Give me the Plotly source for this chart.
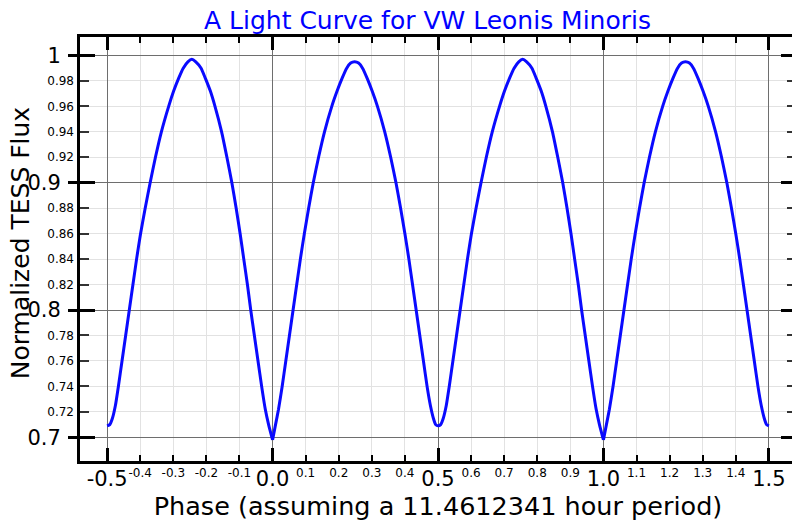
import plotly.graph_objects as go

# One cycle of the phased light curve (phase 0..1)
phase = [0.000, 0.009, 0.018, 0.029, 0.040, 0.051, 0.062, 0.073, 0.084, 0.096,
         0.109, 0.123, 0.139, 0.157, 0.179, 0.195, 0.210, 0.224, 0.236, 0.248,
         0.260, 0.272, 0.286, 0.301, 0.317, 0.339, 0.357, 0.373, 0.387, 0.400,
         0.412, 0.423, 0.434, 0.445, 0.456, 0.467, 0.477, 0.486, 0.493, 0.500,
         0.508, 0.516, 0.525, 0.534, 0.545, 0.556, 0.567, 0.578, 0.589, 0.601,
         0.615, 0.630, 0.646, 0.664, 0.686, 0.701, 0.716, 0.730, 0.744, 0.756,
         0.768, 0.784, 0.797, 0.812, 0.826, 0.846, 0.862, 0.877, 0.890, 0.902,
         0.913, 0.924, 0.934, 0.945, 0.956, 0.967, 0.978, 0.988, 1.000]
flux = [0.698, 0.710, 0.722, 0.740, 0.760, 0.780, 0.800, 0.820, 0.840, 0.860,
        0.880, 0.900, 0.920, 0.940, 0.960, 0.972, 0.982, 0.990, 0.994, 0.995,
        0.994, 0.990, 0.982, 0.972, 0.960, 0.940, 0.920, 0.900, 0.880, 0.860,
        0.840, 0.820, 0.800, 0.780, 0.760, 0.740, 0.725, 0.715, 0.710, 0.709,
        0.710, 0.715, 0.725, 0.740, 0.760, 0.780, 0.800, 0.820, 0.840, 0.860,
        0.880, 0.900, 0.920, 0.940, 0.960, 0.972, 0.982, 0.990, 0.995, 0.997,
        0.995, 0.990, 0.982, 0.972, 0.960, 0.940, 0.920, 0.900, 0.880, 0.860,
        0.840, 0.820, 0.800, 0.780, 0.760, 0.740, 0.722, 0.710, 0.698]

x_major_ticks = [-0.5, 0.0, 0.5, 1.0, 1.5]
x_major_text = ["-0.5", "0.0", "0.5", "1.0", "1.5"]
x_minor_ticks = [-0.4, -0.3, -0.2, -0.1, 0.1, 0.2, 0.3, 0.4, 0.6, 0.7, 0.8, 0.9,
                 1.1, 1.2, 1.3, 1.4]
y_major_ticks = [0.7, 0.8, 0.9, 1.0]
y_major_text = ["0.7", "0.8", "0.9", "1"]
y_minor_ticks = [0.72, 0.74, 0.76, 0.78, 0.82, 0.84, 0.86, 0.88, 0.92, 0.94, 0.96, 0.98]

TITLE = "A Light Curve for VW Leonis Minoris"
X_TITLE = "Phase (assuming a 11.4612341 hour period)"
Y_TITLE = "Normalized TESS Flux"

XR = [-0.582, 1.582]
YR = [0.6814, 1.0145]

# Repeat the phased cycle over the plotted phase window
xs, ys = [], []
for shift in (-1, 0, 1):
    for p, f in zip(phase, flux):
        q = p + shift
        if -0.5 - 1e-9 <= q <= 1.5 + 1e-9:
            xs.append(q)
            ys.append(f)
    xs.append(None)
    ys.append(None)

FONT = "DejaVu Sans"
MAJOR_GRID = "#6e6e6e"
MINOR_GRID = "#e2e2e2"

fig = go.Figure()
fig.add_trace(go.Scatter(x=xs, y=ys, mode="lines",
                         line=dict(color="rgb(10,10,255)", width=3, shape="spline", smoothing=0.5),
                         hoverinfo="skip", showlegend=False))
# helper traces so overlay axes are drawn
fig.add_trace(go.Scatter(x=[None], y=[None], xaxis="x2", yaxis="y", showlegend=False))
fig.add_trace(go.Scatter(x=[None], y=[None], xaxis="x", yaxis="y3", showlegend=False))
fig.add_trace(go.Scatter(x=[None], y=[None], xaxis="x", yaxis="y4", showlegend=False))

fig.update_layout(
    width=800, height=520,
    margin=dict(l=72, r=12, t=29, b=67, autoexpand=False),
    paper_bgcolor="white", plot_bgcolor="white",
    font=dict(family=FONT, color="black"),
    title=dict(text=TITLE, x=0.5244, xanchor="center",
               y=0.977, yanchor="middle", automargin=False,
               font=dict(size=25, color="#0000ff", family=FONT)),
    xaxis=dict(range=XR, tickmode="array", tickvals=x_major_ticks, ticktext=x_major_text,
               ticks="inside", ticklen=13, tickwidth=3, tickcolor="black",
               mirror="ticks", showline=True, linewidth=3, linecolor="black",
               showgrid=True, gridcolor=MAJOR_GRID, gridwidth=1, zeroline=False,
               automargin=False, ticklabelstandoff=-3,
               tickfont=dict(size=21, family=FONT),
               minor=dict(dtick=0.1, tick0=0, ticks="inside", ticklen=6, tickwidth=2,
                          tickcolor="black", showgrid=True, gridcolor=MINOR_GRID, gridwidth=1),
               title=dict(text=X_TITLE, font=dict(size=25.5, family=FONT), standoff=0)),
    xaxis2=dict(overlaying="x", anchor="y", side="bottom", range=XR,
                tickmode="array", tickvals=x_minor_ticks,
                ticktext=[f"{v:.1f}" for v in x_minor_ticks],
                ticks="", showline=False, showgrid=False, zeroline=False,
                automargin=False, ticklabelstandoff=3,
                tickfont=dict(size=12, family=FONT)),
    yaxis=dict(range=YR, tickmode="array", tickvals=y_major_ticks, ticktext=y_major_text,
               ticks="outside", ticklen=9, tickwidth=3, tickcolor="black",
               showline=True, linewidth=3, linecolor="black", mirror=False,
               showgrid=True, gridcolor=MAJOR_GRID, gridwidth=1, zeroline=False,
               automargin=False, ticklabelstandoff=3,
               tickfont=dict(size=21, family=FONT),
               minor=dict(dtick=0.02, tick0=0.7, ticks="", showgrid=True,
                          gridcolor=MINOR_GRID, gridwidth=1)),
    yaxis3=dict(overlaying="y", anchor="x", side="left", range=YR,
                tickmode="array", tickvals=y_major_ticks,
                ticks="inside", ticklen=15, tickwidth=3, tickcolor="black",
                mirror="ticks", showline=True, linewidth=3, linecolor="black",
                showticklabels=False, showgrid=False, zeroline=False, automargin=False,
                minor=dict(dtick=0.02, tick0=0.7, ticks="inside", ticklen=9, tickwidth=2,
                           tickcolor="#333333", showgrid=False)),
    yaxis4=dict(overlaying="y", anchor="x", side="left", range=YR,
                tickmode="array", tickvals=y_minor_ticks,
                ticktext=[f"{v:.2f}" for v in y_minor_ticks],
                ticks="", showline=False, showgrid=False, zeroline=False, automargin=False,
                tickfont=dict(size=12, family=FONT), ticklabelstandoff=5),
)

# y-axis title as rotated text, left of the tick labels
fig.add_annotation(text=Y_TITLE, textangle=-90, xref="paper", yref="paper",
                   x=-0.0835, y=0.514, xanchor="center", yanchor="middle",
                   showarrow=False, font=dict(size=25, family=FONT, color="black"))

fig.write_html("out.html")
